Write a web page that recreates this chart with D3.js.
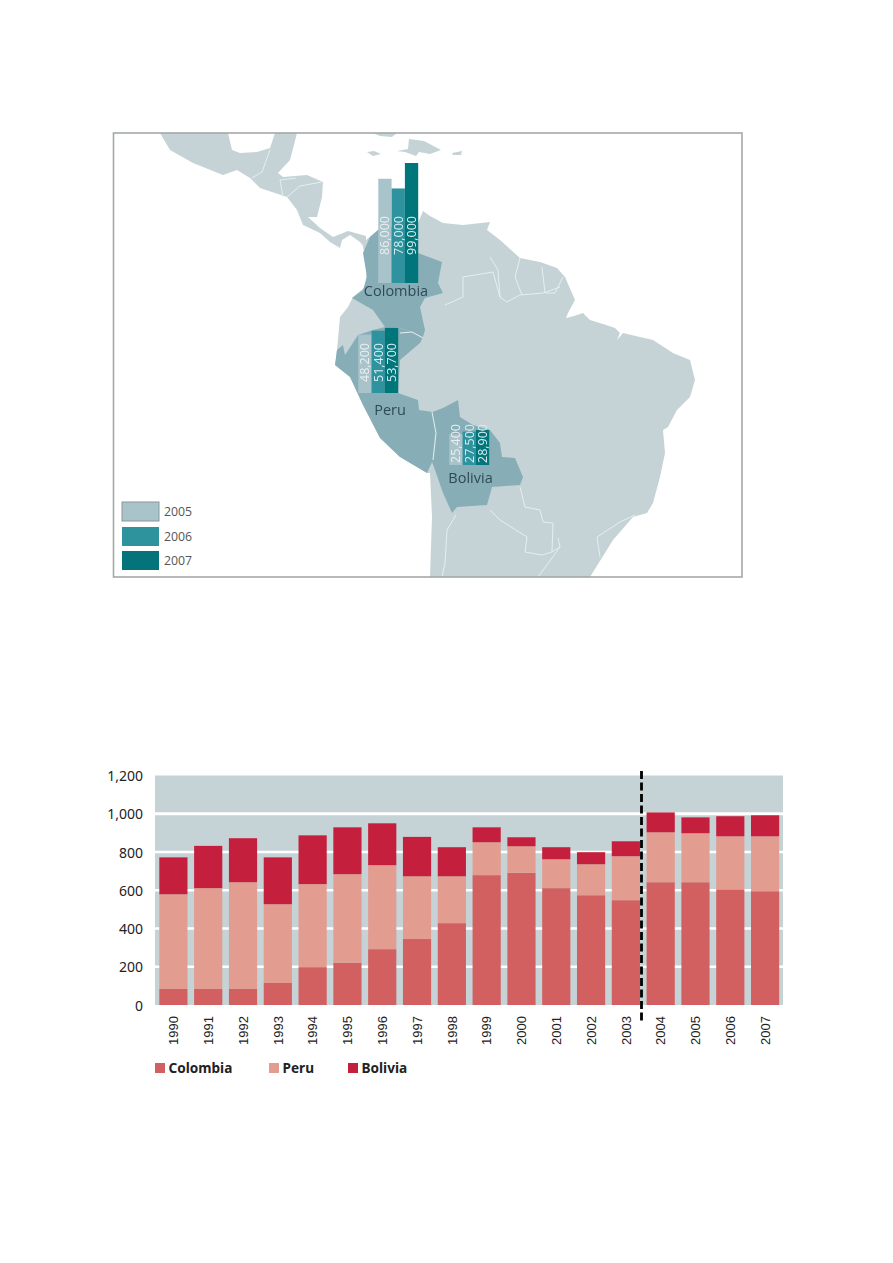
<!DOCTYPE html>
<html><head><meta charset="utf-8">
<script src="https://cdnjs.cloudflare.com/ajax/libs/d3/7.8.5/d3.min.js"></script>
<style>html,body{margin:0;padding:0;background:#fff}svg{display:block}</style>
</head><body>
<div id="chart"></div>
<script>
// ---------- stacked bar data ----------
const years = ["1990","1991","1992","1993","1994","1995","1996","1997","1998","1999","2000","2001","2002","2003","2004","2005","2006","2007"];
const colombia = [84,84,84,115,198,221,292,345,428,679,691,611,574,548,642,642,605,595];
const peru = [495,527,558,412,434,463,439,328,245,172,139,151,162,230,261,256,277,287];
const bolivia = [193,221,230,245,255,245,219,206,152,78,47,63,63,78,104,83,105,110];
const seriesNames = ["Colombia","Peru","Bolivia"];
const seriesColors = ["#d26060","#e39c90","#c41f3c"];
const yTicks = [0,200,400,600,800,1000,1200];

// ---------- map inset data ----------
const mapCountries = ["Colombia","Peru","Bolivia"];
const hectares2005 = [86000,48200,25400];
const hectares2006 = [78000,51400,27500];
const hectares2007 = [99000,53700,28900];
const mapYears = ["2005","2006","2007"];
const mapYearColors = ["#a9c3cb","#2f939e","#04747a"];

const landAmericaCentral = [[160,133],[170,150],[193,163],[223,175],[237,170],[250,178],[260,188],[287,197],[297,210],[303,225],[320,233],[330,242],[340,248],[342,240],[350,235],[360,242],[366,250],[366,236],[348,231],[333,237],[320,228],[308,217],[317,217],[322,197],[323,182],[307,175],[283,177],[278,173],[290,160],[297,133],[275,133],[270,148],[257,152],[240,153],[232,150],[228,133]];
const landCuba = [[373,133],[397,133],[392,137],[380,136]];
const landJamaica = [[367,152],[374,151],[381,154],[373,156]];
const landHispaniola = [[397,151],[408,149],[409,139],[424,141],[441,150],[430,154],[419,152],[416,156],[405,152]];
const landPuertoRico = [[452,153],[462,151],[461,155],[453,155]];
const landSouthAmerica = [[366,240],[378,230],[400,225],[418,223],[423,211],[430,216],[443,223],[463,225],[490,222],[487,230],[500,240],[520,258],[540,262],[557,268],[565,277],[575,300],[568,313],[566,318],[574,316],[583,313],[590,320],[603,324],[615,328],[620,333],[617,340],[623,333],[640,337],[653,340],[673,353],[690,360],[695,380],[690,397],[677,410],[668,427],[663,430],[665,453],[660,477],[653,503],[647,513],[633,517],[613,540],[590,577],[430,577],[432,517],[430,473],[427,473],[400,457],[380,438],[363,405],[350,377],[335,365],[337,350],[340,317],[348,307],[353,297],[365,287],[367,267],[363,247]];
const shapeColombia = [[370,237],[378,230],[400,225],[418,223],[418,253],[442,262],[438,283],[443,293],[425,298],[420,307],[425,330],[423,337],[410,331],[395,327],[385,327],[373,310],[352,298],[363,290],[367,277],[363,253]];
const shapePeru = [[385,327],[395,327],[410,331],[423,337],[420,343],[400,360],[398,393],[418,400],[419,410],[433,412],[435,433],[433,460],[427,473],[400,457],[380,438],[363,405],[350,377],[335,365],[337,350],[343,345],[345,355],[358,335],[373,330]];
const shapeBolivia = [[458,400],[460,417],[473,425],[490,430],[500,443],[502,457],[515,458],[523,477],[520,485],[492,487],[487,505],[457,507],[452,513],[443,493],[435,470],[432,462],[435,433],[430,413],[443,408]];
const borderLines = [
  [[463,277],[493,272],[500,297],[507,302],[520,295],[543,293],[560,287]],
  [[445,305],[463,297],[463,277]],
  [[490,257],[498,270],[500,297]],
  [[520,258],[515,277],[522,295]],
  [[542,267],[545,293],[555,293],[563,277]],
  [[456,515],[447,530],[445,563],[442,577]],
  [[490,510],[500,520],[527,537],[525,552],[542,555],[552,552],[553,523],[543,522],[540,510],[525,507],[520,487]],
  [[552,552],[560,547],[558,538]],
  [[560,547],[538,577]],
  [[600,557],[597,537],[620,522],[635,515]],
  [[400,333],[412,332],[423,338]],
  [[432,412],[436,433],[433,460]],
  [[252,178],[262,172],[270,150]],
  [[283,197],[280,180],[296,178]],
  [[287,197],[300,186],[322,182]]
];

// ---------- layout ----------
const W = 893, H = 1263;
const svg = d3.select("#chart").append("svg").attr("width",W).attr("height",H).style("font-family","'Open Sans',sans-serif");
const ring = r => ({type:"Polygon",coordinates:[r.concat([r[0]])]});
const geo = d3.geoPath(d3.geoIdentity());

// ---------- map ----------
const frame = {x:113.5,y:133,w:628.5,h:444};
svg.append("clipPath").attr("id","mapclip").append("rect").attr("x",frame.x).attr("y",frame.y).attr("width",frame.w).attr("height",frame.h);
const soft = svg.append("filter").attr("id","soft");
soft.append("feGaussianBlur").attr("stdDeviation",0.45);
const map = svg.append("g").attr("clip-path","url(#mapclip)").append("g").attr("filter","url(#soft)");
const lands = [landAmericaCentral,landCuba,landJamaica,landHispaniola,landPuertoRico,landSouthAmerica];
map.selectAll("path.land").data(lands).join("path").attr("class","land").attr("d",d=>geo(ring(d))).attr("fill","#c5d3d7");
const shapes = [shapeColombia,shapePeru,shapeBolivia];
map.selectAll("path.hl").data(shapes).join("path").attr("class","hl").attr("d",d=>geo(ring(d))).attr("fill","#87aeb6");
map.append("path").attr("d",geo({type:"MultiLineString",coordinates:borderLines})).attr("fill","none").attr("stroke","#e6eef0").attr("stroke-width",1);

// map columns
const hPx = d3.scaleLinear().domain([0,99000]).range([0,120]);
const colLeft = [378.3,358.3,449.3];
const colBase = [283,393,465];
const colW = 13.3;
const labelLift = [28,11,2];
[hectares2005,hectares2006,hectares2007].forEach((vals,yi)=>{
  vals.forEach((v,ci)=>{
    const x = colLeft[ci]+yi*colW;
    map.append("rect").attr("x",x).attr("width",colW).attr("y",colBase[ci]-hPx(v)).attr("height",hPx(v)).attr("fill",mapYearColors[yi]);
    map.append("text").attr("transform",`translate(${x+colW/2+4.5},${colBase[ci]-labelLift[ci]}) rotate(-90)`)
      .attr("font-size",12.5).attr("fill",yi===0?"#e9eff1":"#d5eef0").text(d3.format(",")(v));
  });
});
const nameX = [396,390,470.5], nameY = [296,415,483];
mapCountries.forEach((c,i)=>map.append("text").attr("x",nameX[i]).attr("y",nameY[i]).attr("text-anchor","middle").attr("font-size",14.5).attr("fill","#2f4a55").text(c));

// map legend
mapYears.forEach((y,i)=>{
  const ly=[502,527,551][i];
  svg.append("rect").attr("x",122).attr("y",ly).attr("width",37).attr("height",19).attr("fill",mapYearColors[i]).attr("stroke",i===0?"#8a979b":"none").attr("stroke-width",1);
  svg.append("text").attr("x",164).attr("y",ly+14).attr("font-size",12.3).attr("fill","#555").text(y);
});
svg.append("rect").attr("x",frame.x).attr("y",frame.y).attr("width",frame.w).attr("height",frame.h).attr("fill","none").attr("stroke","#a3a8a9").attr("stroke-width",1.6);

// ---------- stacked bars ----------
const x = d3.scaleBand().domain(years).range([156,782.5]).paddingInner(0.19).paddingOuter(0.095);
const y = d3.scaleLinear().domain([0,1200]).range([1005,775.5]);
const rows = years.map((yr,i)=>({year:yr,Colombia:colombia[i],Peru:peru[i],Bolivia:bolivia[i]}));
const stack = d3.stack().keys(seriesNames)(rows);
const chart = svg.append("g");
chart.append("rect").attr("x",155).attr("width",628).attr("y",y(1200)).attr("height",y(0)-y(1200)).attr("fill","#c5d3d7");
chart.selectAll("line.grid").data(yTicks.filter(t=>t>0&&t<1200)).join("line").attr("class","grid")
  .attr("x1",155).attr("x2",783).attr("y1",d=>y(d)).attr("y2",d=>y(d)).attr("stroke","#fff").attr("stroke-width",d=>d===1000?3:2.3);
stack.forEach((s,i)=>{
  chart.selectAll(null).data(s).join("rect").attr("x",d=>x(d.data.year)).attr("width",x.bandwidth())
    .attr("y",d=>y(d[1])).attr("height",d=>y(d[0])-y(d[1])).attr("fill",seriesColors[i]);
});
// y axis
const yAxis = d3.axisLeft(y).tickValues(yTicks).tickSize(0).tickPadding(0).tickFormat(d3.format(","));
const ya = chart.append("g").attr("transform","translate(143,0)").call(yAxis);
ya.select(".domain").remove();
ya.selectAll("text").attr("font-size",14).attr("font-family","'Noto Sans',sans-serif").attr("fill","#222").attr("dy","0.36em");
// x axis
const xAxis = d3.axisBottom(x).tickSize(0).tickPadding(0);
const xa = chart.append("g").attr("transform","translate(0,1016)").call(xAxis);
xa.select(".domain").remove();
xa.selectAll("text").attr("font-size",13).attr("font-family","'Liberation Sans',Arial,sans-serif").attr("fill","#222")
  .attr("transform","rotate(-90)").attr("text-anchor","end").attr("dy","0.36em").attr("x",-0).attr("y",0);
// divider
chart.append("line").attr("x1",641.5).attr("x2",641.5).attr("y1",771).attr("y2",1023).attr("stroke","#000").attr("stroke-width",2.8).attr("stroke-dasharray","8 3.5");
// legend
const legX=[155,269,348];
seriesNames.forEach((n,i)=>{
  svg.append("rect").attr("x",legX[i]).attr("y",1063).attr("width",10).attr("height",10).attr("fill",seriesColors[i]);
  svg.append("text").attr("x",legX[i]+13.5).attr("y",1072.5).attr("font-size",13.6).attr("font-weight",700).attr("font-family","'Noto Sans',sans-serif").attr("fill","#222").text(n);
});
</script>
</body></html>
